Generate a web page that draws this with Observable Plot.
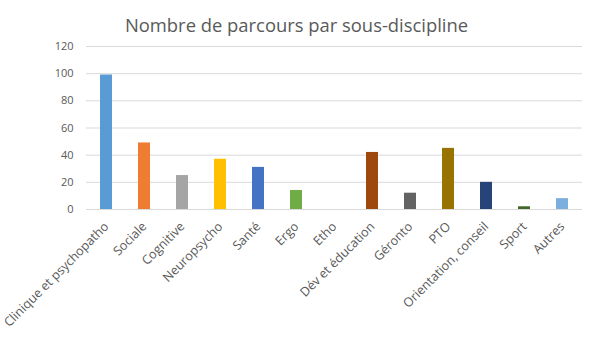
<!DOCTYPE html>
<html>
<head>
<meta charset="utf-8">
<script src="https://cdn.jsdelivr.net/npm/d3@7"></script>
<script src="https://cdn.jsdelivr.net/npm/@observablehq/plot@0.6"></script>
<style>
  html, body { margin: 0; padding: 0; background: #fff; }
  svg { display: block; }
</style>
</head>
<body>
<div id="chart"></div>
<script>
const title = "Nombre de parcours par sous-discipline";
const categories = ["Clinique et psychopatho", "Sociale", "Cognitive", "Neuropsycho", "Santé", "Ergo", "Etho", "Dév et éducation", "Géronto", "PTO", "Orientation, conseil", "Sport", "Autres"];
const values = [99, 49, 25, 37, 31, 14, 0, 42, 12, 45, 20, 2, 8];
const colors = ["#5B9BD5", "#ED7D31", "#A5A5A5", "#FFC000", "#4472C4", "#70AD47", "#255E91", "#9E480E", "#636363", "#997300", "#264478", "#43682B", "#7CAFDD"];
const yTicks = [0, 20, 40, 60, 80, 100, 120];

const data = categories.map((c, i) => ({category: c, value: values[i], color: colors[i]}));

const chart = Plot.plot({
  width: 589,
  height: 358,
  marginLeft: 86,
  marginRight: 7,
  marginTop: 46,
  marginBottom: 149,
  style: {fontFamily: "'Segoe UI', 'Open Sans', sans-serif", color: "#595959", background: "#fff"},
  x: {type: "band", domain: categories, paddingInner: 0.68, paddingOuter: 0.34, label: null},
  y: {domain: [0, 120], ticks: yTicks, label: null},
  color: {type: "identity"},
  marks: [
    Plot.gridY(yTicks, {stroke: "#d9d9d9", strokeOpacity: 1, strokeWidth: 1}),
    Plot.axisY(yTicks, {tickSize: 0, tickPadding: 13, fontSize: 11, fill: "#595959", label: null}),
    Plot.axisX({tickSize: 0, tickPadding: 15, tickRotate: -45, fontSize: 12.6, fill: "#595959", label: null}),
    Plot.barY(data, {x: "category", y: "value", fill: "color"}),
    Plot.text([title], {frameAnchor: "top", dy: -28, dx: -38, fontSize: 18.4, fill: "#595959"})
  ]
});
document.getElementById("chart").append(chart);
</script>
</body>
</html>
